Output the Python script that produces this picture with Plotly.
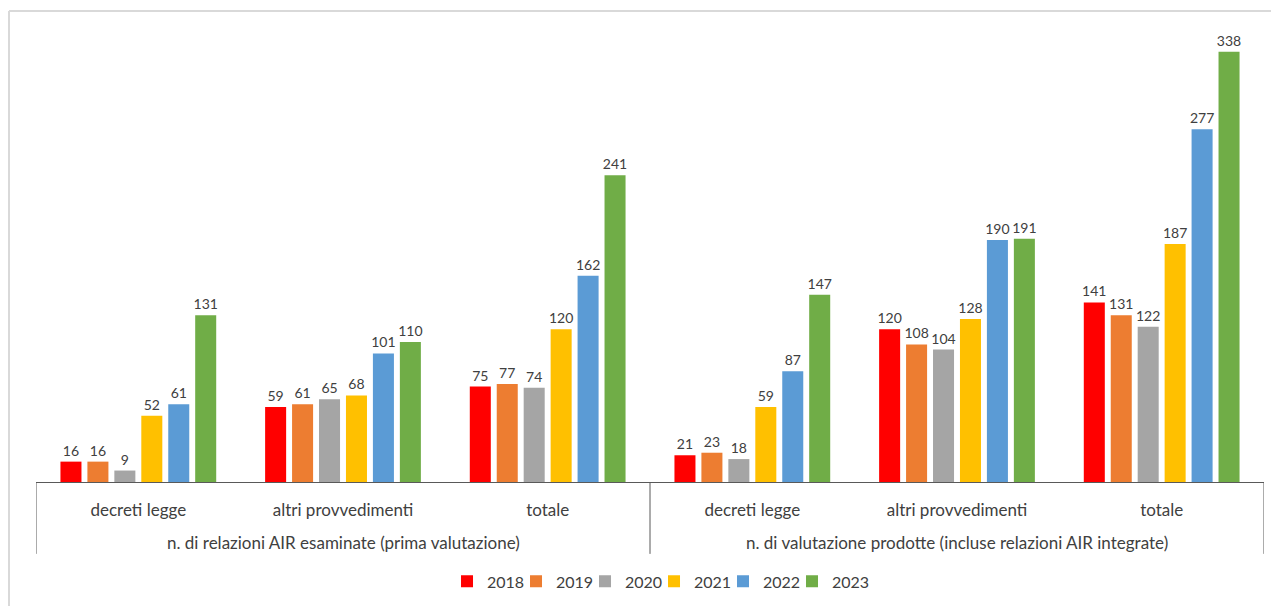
import plotly.graph_objects as go

# categories (two levels)
groups = [
    "n. di relazioni AIR esaminate (prima valutazione)",
    "n. di valutazione prodotte (incluse relazioni AIR integrate)",
]
kinds = ["decreti legge", "altri provvedimenti", "totale"]

years = ["2018", "2019", "2020", "2021", "2022", "2023"]
colors = ["#FF0000", "#ED7D31", "#A5A5A5", "#FFC000", "#5B9BD5", "#70AD47"]

# values per year, order: group 1 (3 kinds) then group 2 (3 kinds)
v2018 = [16, 59, 75, 21, 120, 141]
v2019 = [16, 61, 77, 23, 108, 131]
v2020 = [9, 65, 74, 18, 104, 122]
v2021 = [52, 68, 120, 59, 128, 187]
v2022 = [61, 101, 162, 87, 190, 277]
v2023 = [131, 110, 241, 147, 191, 338]
values = [v2018, v2019, v2020, v2021, v2022, v2023]

positions = list(range(len(groups) * len(kinds)))
inner_labels = kinds * len(groups)

text_color = "#404040"

fig = go.Figure()
for year, color, vals in zip(years, colors, values):
    fig.add_trace(
        go.Bar(
            x=positions,
            y=vals,
            name=year,
            marker={"color": color, "line": {"width": 0}},
            text=vals,
            textposition="outside",
            textfont={"size": 14, "color": text_color},
            cliponaxis=False,
        )
    )
# empty legend slot so the last label is not clipped by the fixed entry width
fig.add_trace(go.Scatter(x=[None], y=[None], name="", mode="markers",
                         hoverinfo="skip",
                         marker={"color": "rgba(0,0,0,0)", "size": 1,
                                 "line": {"width": 0}}))

fig.update_layout(
    width=1263,
    height=598,
    barmode="group",
    bargap=0.21,
    bargroupgap=0.22,
    plot_bgcolor="white",
    paper_bgcolor="white",
    font={"family": "Lato, Open Sans, sans-serif", "size": 14, "color": text_color},
    margin={"l": 28, "r": 7, "t": 22, "b": 122},
    legend={
        "orientation": "h",
        "x": 0.3347,
        "xanchor": "left",
        "y": -0.22,
        "yanchor": "middle",
        "font": {"size": 16, "color": text_color},
        "itemwidth": 30,
        "entrywidth": 24,
        "traceorder": "normal",
    },
    uniformtext={"mode": "show", "minsize": 14},
)
fig.update_xaxes(
    range=[-0.5, len(positions) - 0.5],
    tickmode="array",
    tickvals=positions,
    ticktext=inner_labels,
    showline=True,
    linecolor="#595959",
    linewidth=1,
    ticks="",
    showgrid=False,
    zeroline=False,
    ticklabelstandoff=13,
    tickfont={"size": 17, "color": text_color},
)
fig.update_yaxes(visible=False, range=[0, 355])

# outer category labels and dividers
for i, group in enumerate(groups):
    centre = i * len(kinds) + (len(kinds) - 1) / 2
    fig.add_annotation(x=centre, y=-0.134, xref="x", yref="paper", text=group,
                       showarrow=False, yanchor="middle",
                       font={"size": 17, "color": text_color})
for edge in range(len(groups) + 1):
    xd = edge * len(kinds) - 0.5
    fig.add_shape(type="line", xref="x", yref="paper", x0=xd, x1=xd,
                  y0=0, y1=-0.159, line={"color": "#595959", "width": 1})

# light frame around the chart area
fig.add_shape(type="line", xref="paper", yref="paper", x0=-0.022, x1=1.02,
              y0=1.0419, y1=1.0419, line={"color": "#D9D9D9", "width": 2})
fig.add_shape(type="line", xref="paper", yref="paper", x0=-0.022, x1=-0.022,
              y0=1.0419, y1=-0.3, line={"color": "#D9D9D9", "width": 2})

fig.write_html("out.html")
